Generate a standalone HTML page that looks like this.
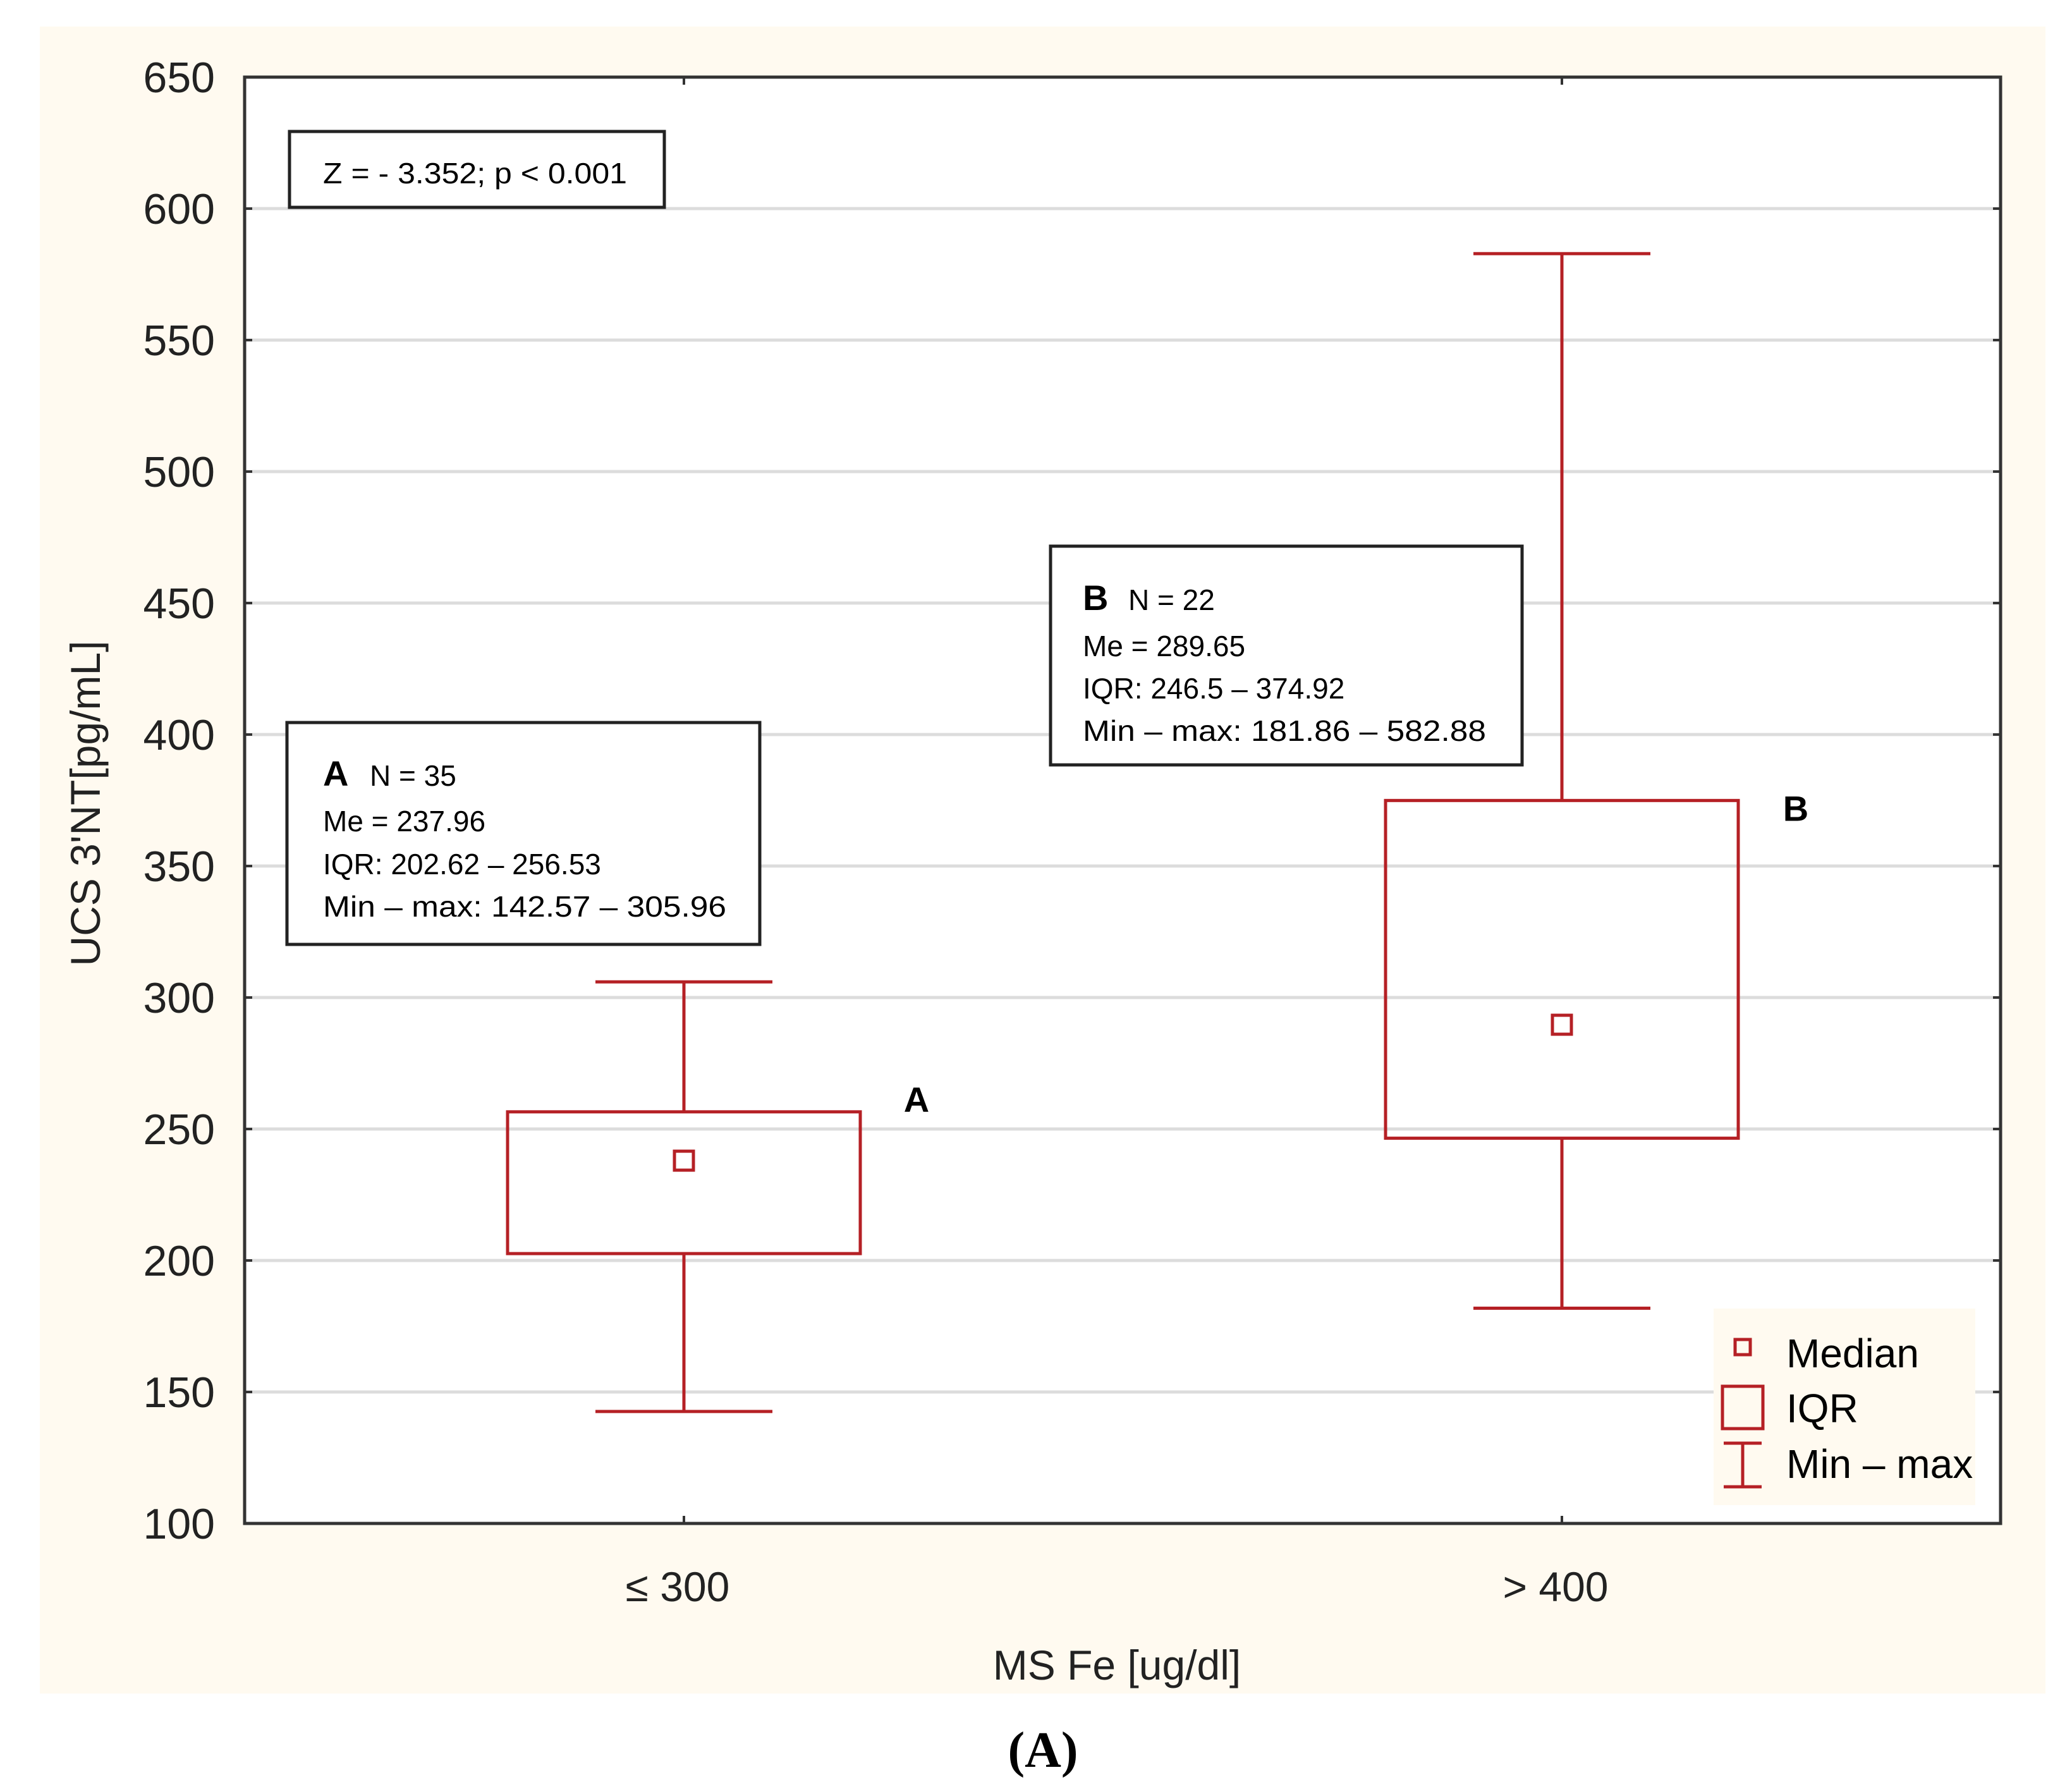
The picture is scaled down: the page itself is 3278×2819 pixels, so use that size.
<!DOCTYPE html>
<html><head><meta charset="utf-8"><style>
html,body{margin:0;padding:0;background:#fff}
svg{display:block}
text{font-family:"Liberation Sans",sans-serif}
</style></head><body>
<svg id="chart" width="3278" height="2819" viewBox="0 0 3278 2819" xmlns="http://www.w3.org/2000/svg">
<rect x="63" y="42" width="3173" height="2637" fill="#fffaf0"/>
<rect x="387" y="122" width="2778" height="2288" fill="#fff"/>
<g id="grid"></g>
<g id="yticks"></g>
<g id="marks"></g>
<rect x="387" y="122" width="2778" height="2288" fill="none" stroke="#333" stroke-width="5"/>
<text transform="translate(158,1271) rotate(-90)" text-anchor="middle" font-size="66" fill="#222">UCS 3'NT[pg/mL]</text>
<text x="1767" y="2657" text-anchor="middle" font-size="66" fill="#222">MS Fe [ug/dl]</text>
<text x="1650" y="2795" text-anchor="middle" font-size="80" font-weight="bold" style="font-family:'Liberation Serif',serif">(A)</text>

<g>
<rect x="458" y="208" width="593" height="120" fill="#fff" stroke="#222" stroke-width="5"/>
<text x="511" y="290" font-size="46" textLength="481" lengthAdjust="spacingAndGlyphs">Z = - 3.352; p &lt; 0.001</text>
</g>
<g>
<rect x="454" y="1143" width="748" height="351" fill="#fff" stroke="#222" stroke-width="5"/>
<text x="511" y="1243" font-size="56" font-weight="bold">A</text>
<text x="585" y="1243" font-size="46">N = 35</text>
<text x="511" y="1315" font-size="46">Me = 237.96</text>
<text x="511" y="1383" font-size="46">IQR: 202.62 – 256.53</text>
<text x="511" y="1450" font-size="46" textLength="638" lengthAdjust="spacingAndGlyphs">Min – max: 142.57 – 305.96</text>
</g>
<g>
<rect x="1662" y="864" width="746" height="346" fill="#fff" stroke="#222" stroke-width="5"/>
<text x="1713" y="965" font-size="56" font-weight="bold">B</text>
<text x="1785" y="965" font-size="46">N = 22</text>
<text x="1713" y="1038" font-size="46">Me = 289.65</text>
<text x="1713" y="1105" font-size="46">IQR: 246.5 – 374.92</text>
<text x="1713" y="1172" font-size="46" textLength="638" lengthAdjust="spacingAndGlyphs">Min – max: 181.86 – 582.88</text>
</g>
<g>
<rect x="2711" y="2070" width="414" height="311" fill="#fffaf0"/>
<rect x="2745" y="2119" width="24" height="24" fill="none" stroke="#b52025" stroke-width="5"/>
<text x="2826" y="2163" font-size="64">Median</text>
<rect x="2725" y="2193" width="64" height="67" fill="none" stroke="#b52025" stroke-width="5"/>
<text x="2826" y="2250" font-size="64">IQR</text>
<path d="M2727 2283H2787M2757 2283V2352M2727 2352H2787" fill="none" stroke="#b52025" stroke-width="5"/>
<text x="2826" y="2338" font-size="64">Min – max</text>
</g>
<script>
const categories = ["≤ 300", "> 400"];
const groupLabels = ["A", "B"];
const mins = [142.57, 181.86];
const q1s = [202.62, 246.5];
const medians = [237.96, 289.65];
const q3s = [256.53, 374.92];
const maxs = [305.96, 582.88];
const yTicks = [100,150,200,250,300,350,400,450,500,550,600,650];
const NS="http://www.w3.org/2000/svg";
const y = v => 2410 - (v-100)*(2410-122)/550;
const xc = i => 1082 + i*(2471-1082);
function mk(tag, attrs, parent, txt){const e=document.createElementNS(NS,tag);for(const k in attrs)e.setAttribute(k,attrs[k]);if(txt!==undefined)e.textContent=txt;parent.appendChild(e);return e;}
const grid=document.getElementById('grid'), yt=document.getElementById('yticks'), marks=document.getElementById('marks'), svg=document.getElementById('chart');
yTicks.forEach(t=>{
  if(t>100&&t<650){const g=mk('line',{x1:387,x2:3165,y1:y(t),y2:y(t),stroke:'#dcdcdc','stroke-width':5},grid);
  
  }
  const l=mk('text',{x:340,y:y(t)+24,'text-anchor':'end','font-size':68,fill:'#222'},yt,String(t));
  
  
  const tk=mk('path',{d:`M387 ${y(t)}h12M3165 ${y(t)}h-12`,stroke:'#333','stroke-width':4},yt);
  
  
});
categories.forEach((c,i)=>{
  const x=xc(i), hw=279, cw=140, red='#b52025';
  const g=mk('g',{},marks);
  
  
  mk('path',{d:`M${x} ${y(maxs[i])}V${y(q3s[i])}M${x} ${y(q1s[i])}V${y(mins[i])}M${x-cw} ${y(maxs[i])}H${x+cw}M${x-cw} ${y(mins[i])}H${x+cw}`,stroke:red,'stroke-width':5,fill:'none'},g);
  const b=mk('rect',{x:x-hw,y:y(q3s[i]),width:2*hw,height:y(q1s[i])-y(q3s[i]),fill:'none',stroke:red,'stroke-width':5},g);
  
  
  const m=mk('rect',{x:x-15,y:y(medians[i])-15,width:30,height:30,fill:'none',stroke:red,'stroke-width':5},g);
  
  
  const gl=mk('text',{x:x+(i?370:368),y:y(q3s[i])+(i?32:0),'font-size':56,'font-weight':'bold','text-anchor':'middle'},g,groupLabels[i]);
  
  
  const xl=mk('text',{x:x-10,y:2533,'text-anchor':'middle','font-size':66,fill:'#222'},svg,c);
  
  
  const tk=mk('path',{d:`M${x} 122v12M${x} 2410v-12`,stroke:'#333','stroke-width':4},svg);
  
  
});
</script>
</svg>
</body></html>
